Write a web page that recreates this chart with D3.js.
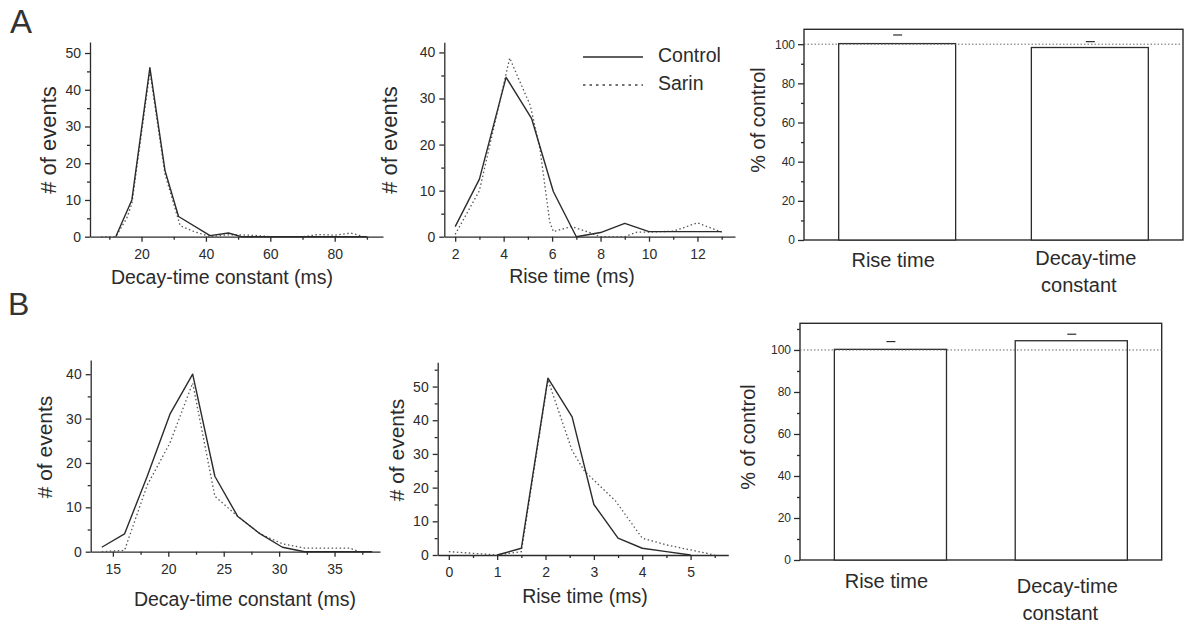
<!DOCTYPE html>
<html>
<head>
<meta charset="utf-8">
<script src="https://cdn.jsdelivr.net/npm/d3@7"></script>
<style>
  body { margin: 0; background: #fff; }
  svg { display: block; font-family: "Liberation Sans", Arial, sans-serif; }
  .axis path, .axis line { stroke: #2b2b2b; stroke-width: 1.3; }
  .axis text { fill: #2b2b2b; }
</style>
</head>
<body>
<script>
// ---- data ----
// A: decay-time constant histogram (ms, # of events)
const decayControlA = [[12, 0], [17, 10], [22.6, 46], [27.3, 18], [31.5, 5.5], [41.3, 0.3], [47, 1], [51, 0], [60, 0], [70, 0], [80, 0], [90, 0]];
const decaySarinA = [[7.5, 0], [12, 0], [15.4, 5], [17, 9], [22.6, 45], [27.3, 17], [32, 3], [36, 1.5], [41.3, 0], [46.5, 0.5], [51, 0.5], [56, 0.3], [60, 0], [70, 0], [75, 0.6], [80, 0.4], [85, 1], [89, 0]];
// A: rise time histogram
const riseControlA = [[2, 2.2], [3, 12.5], [4.1, 34.6], [5.15, 25.7], [6.05, 9.8], [7, 0], [8, 0.9], [9, 2.9], [10, 1.1], [11, 1.1], [12, 1.1], [13, 1.1]];
const riseSarinA = [[2, 0.5], [3, 10], [4.25, 38.8], [4.6, 34.5], [5.1, 28.5], [5.5, 19], [5.9, 3.3], [6.05, 1.1], [6.8, 2.2], [7.5, 1], [8, 0], [9, 0], [9.5, 1], [10, 1], [11, 1.2], [12, 3], [13, 1]];
// B: decay-time constant histogram
const decayControlB = [[14, 1], [16.05, 4], [18.1, 17], [20.15, 31], [22.2, 40], [24.2, 17], [26.25, 8], [28.3, 4], [30.3, 1], [32.3, 0], [34.4, 0], [36.4, 0], [38.4, 0]];
const decaySarinB = [[14, 0], [16.05, 0.3], [18.1, 15], [20.15, 24.5], [22.2, 38], [24.2, 12.5], [26.25, 8], [28.3, 4], [30.3, 1.8], [32.3, 0.8], [34.4, 0.8], [36.4, 0.8], [37.2, 0]];
// B: rise time histogram
const riseControlB = [[1, 0], [1.5, 2], [2.05, 52.5], [2.55, 41], [3, 15], [3.5, 5], [4, 2], [4.5, 1], [5, 0]];
const riseSarinB = [[0, 1], [0.5, 0.5], [1, 0], [1.5, 1], [2.05, 52], [2.55, 31], [2.8, 25], [3.45, 16], [4, 5], [4.5, 3], [5, 1.5], [5.5, 0]];

// % of control bars
const barCategories = ['Rise time', 'Decay-time constant'];
const barValuesA = [100.3, 98.3];
const barErrTopA = [104.7, 101.3];
const barValuesB = [100.3, 104.4];
const barErrTopB = [104, 107.5];

const svg = d3.select('body').append('svg')
  .attr('width', 1186)
  .attr('height', 624);

const ink = '#2b2b2b';

function styleAxis(g, size) {
  g.attr('font-family', null).attr('font-size', size);
}

function histPanel(o) {
  const x = d3.scaleLinear().domain(o.xDomain).range([o.left, o.right]);
  const y = d3.scaleLinear().domain(o.yDomain).range([o.bottom, o.top]);

  // minor ticks
  svg.append('g').attr('class', 'axis')
    .attr('transform', `translate(0,${o.bottom})`)
    .call(d3.axisBottom(x).tickValues(o.xMinor).tickSize(3).tickFormat(''))
    .call(g => g.select('.domain').remove());
  svg.append('g').attr('class', 'axis')
    .attr('transform', `translate(${o.left},0)`)
    .call(d3.axisLeft(y).tickValues(o.yMinor).tickSize(3).tickFormat(''))
    .call(g => g.select('.domain').remove());

  // major axes
  svg.append('g').attr('class', 'axis')
    .attr('transform', `translate(0,${o.bottom})`)
    .call(d3.axisBottom(x).tickValues(o.xMajor).tickFormat(d3.format('~g'))
      .tickSize(5).tickPadding(7).tickSizeOuter(0))
    .call(g => styleAxis(g, 14));
  svg.append('g').attr('class', 'axis')
    .attr('transform', `translate(${o.left},0)`)
    .call(d3.axisLeft(y).tickValues(o.yMajor).tickSize(5).tickPadding(4).tickSizeOuter(0))
    .call(g => styleAxis(g, 14));

  const line = d3.line().x(d => x(d[0])).y(d => y(d[1]));

  svg.append('path').datum(o.sarin)
    .attr('d', line)
    .attr('fill', 'none')
    .attr('stroke', '#555')
    .attr('stroke-width', 1.3)
    .attr('stroke-dasharray', '1.5,2.5');

  svg.append('path').datum(o.control)
    .attr('d', line)
    .attr('fill', 'none')
    .attr('stroke', ink)
    .attr('stroke-width', 1.4)
    .attr('stroke-linejoin', 'round');

  // titles
  svg.append('text')
    .attr('x', o.xTitle[0]).attr('y', o.xTitle[1])
    .attr('text-anchor', 'middle')
    .attr('font-size', 19.5)
    .attr('fill', ink)
    .text(o.xLabel);
  svg.append('text')
    .attr('transform', `translate(${o.yTitle[0]},${o.yTitle[1]}) rotate(-90)`)
    .attr('text-anchor', 'middle')
    .attr('font-size', o.yTitleSize)
    .attr('fill', ink)
    .text('# of events');
}

function barPanel(o) {
  const x = d3.scaleBand().domain(barCategories).range([o.left, o.right])
    .paddingInner(o.padIn).paddingOuter(o.padOut);
  const y = d3.scaleLinear().domain([0, o.yMax]).range([o.bottom, o.top]);

  // frame
  svg.append('rect')
    .attr('x', o.left).attr('y', o.top)
    .attr('width', o.right - o.left).attr('height', o.bottom - o.top)
    .attr('fill', 'none').attr('stroke', ink).attr('stroke-width', 1.4);

  // bars
  svg.selectAll(null).data(o.values).enter().append('rect')
    .attr('x', (d, i) => x(barCategories[i]))
    .attr('y', d => y(d))
    .attr('width', x.bandwidth())
    .attr('height', d => y(0) - y(d))
    .attr('fill', '#fff')
    .attr('stroke', ink)
    .attr('stroke-width', 1.3);

  // reference line at 100 %
  svg.append('line')
    .attr('x1', o.left).attr('x2', o.right)
    .attr('y1', y(100)).attr('y2', y(100))
    .attr('stroke', '#666').attr('stroke-width', 1)
    .attr('stroke-dasharray', '1.5,2');

  // error caps
  svg.selectAll(null).data(o.errTop).enter().append('line')
    .attr('x1', (d, i) => x(barCategories[i]) + x.bandwidth() / 2 - 4)
    .attr('x2', (d, i) => x(barCategories[i]) + x.bandwidth() / 2 + 5)
    .attr('y1', d => y(d)).attr('y2', d => y(d))
    .attr('stroke', ink).attr('stroke-width', 1.2);

  // y axis
  svg.append('g').attr('class', 'axis')
    .attr('transform', `translate(${o.left},0)`)
    .call(d3.axisLeft(y).tickValues(o.yMinor).tickSize(3).tickFormat(''))
    .call(g => g.select('.domain').remove());
  svg.append('g').attr('class', 'axis')
    .attr('transform', `translate(${o.left},0)`)
    .call(d3.axisLeft(y).tickValues([0, 20, 40, 60, 80, 100]).tickSize(6).tickPadding(3).tickSizeOuter(0))
    .call(g => styleAxis(g, 12))
    .call(g => g.select('.domain').remove());

  // category labels
  barCategories.forEach((c, i) => {
    const lines = c === 'Decay-time constant' ? ['Decay-time', 'constant'] : [c];
    const t = svg.append('text')
      .attr('x', x(c) + x.bandwidth() / 2 - 4)
      .attr('y', o.bottom + o.labelDy[i])
      .attr('text-anchor', 'middle')
      .attr('font-size', 20)
      .attr('fill', ink);
    lines.forEach((l, j) => {
      t.append('tspan')
        .attr('x', x(c) + x.bandwidth() / 2 - 4 - j * 7)
        .attr('dy', j === 0 ? 0 : 27)
        .text(l);
    });
  });

  svg.append('text')
    .attr('transform', `translate(${o.yTitle[0]},${o.yTitle[1]}) rotate(-90)`)
    .attr('text-anchor', 'middle')
    .attr('font-size', 20)
    .attr('fill', ink)
    .text('% of control');
}

// panel letters
svg.append('text').attr('x', 10).attr('y', 33).attr('font-size', 33).attr('fill', '#333').text('A');
svg.append('text').attr('x', 8).attr('y', 315).attr('font-size', 32).attr('fill', '#333').text('B');

// A row
histPanel({
  left: 90, right: 383, top: 42, bottom: 236.7,
  xDomain: [4, 95], yDomain: [0, 53],
  xMajor: [20, 40, 60, 80], xMinor: [10, 30, 50, 70, 90],
  yMajor: [0, 10, 20, 30, 40, 50], yMinor: [5, 15, 25, 35, 45],
  control: decayControlA, sarin: decaySarinA,
  xLabel: 'Decay-time constant (ms)', xTitle: [222, 284],
  yTitle: [56, 140], yTitleSize: 22
});
histPanel({
  left: 444.3, right: 735, top: 42.3, bottom: 236.7,
  xDomain: [1.55, 13.55], yDomain: [0, 42.2],
  xMajor: [2, 4, 6, 8, 10, 12], xMinor: [3, 5, 7, 9, 11, 13],
  yMajor: [0, 10, 20, 30, 40], yMinor: [5, 15, 25, 35],
  control: riseControlA, sarin: riseSarinA,
  xLabel: 'Rise time (ms)', xTitle: [572, 283],
  yTitle: [397, 140], yTitleSize: 22
});
barPanel({
  left: 804, right: 1183, top: 29.3, bottom: 240, yMax: 107.6,
  padIn: 0.393, padOut: 0.18,
  values: barValuesA, errTop: barErrTopA,
  yMinor: [10, 30, 50, 70, 90],
  labelDy: [27, 25], yTitle: [765, 120]
});

// legend
svg.append('line').attr('x1', 583).attr('x2', 643).attr('y1', 57).attr('y2', 57)
  .attr('stroke', ink).attr('stroke-width', 1.4);
svg.append('line').attr('x1', 583).attr('x2', 643).attr('y1', 85).attr('y2', 85)
  .attr('stroke', '#444').attr('stroke-width', 1.5).attr('stroke-dasharray', '2.5,4');
svg.append('text').attr('x', 658).attr('y', 62).attr('font-size', 19.5).attr('fill', ink).text('Control');
svg.append('text').attr('x', 658).attr('y', 90).attr('font-size', 19.5).attr('fill', ink).text('Sarin');

// B row
histPanel({
  left: 90.7, right: 380, top: 360, bottom: 551.7,
  xDomain: [13, 39.1], yDomain: [0, 43.2],
  xMajor: [15, 20, 25, 30, 35], xMinor: [17.5, 22.5, 27.5, 32.5, 37.5],
  yMajor: [0, 10, 20, 30, 40], yMinor: [5, 15, 25, 35],
  control: decayControlB, sarin: decaySarinB,
  xLabel: 'Decay-time constant (ms)', xTitle: [245, 606],
  yTitle: [51.5, 447], yTitleSize: 21
});
histPanel({
  left: 437.7, right: 728.3, top: 362.3, bottom: 555,
  xDomain: [-0.23, 5.78], yDomain: [0, 57.2],
  xMajor: [0, 1, 2, 3, 4, 5], xMinor: [0.5, 1.5, 2.5, 3.5, 4.5, 5.5],
  yMajor: [0, 10, 20, 30, 40, 50], yMinor: [5, 15, 25, 35, 45, 55],
  control: riseControlB, sarin: riseSarinB,
  xLabel: 'Rise time (ms)', xTitle: [585, 603],
  yTitle: [404, 450], yTitleSize: 21
});
barPanel({
  left: 800, right: 1161.7, top: 323.3, bottom: 560, yMax: 112.7,
  padIn: 0.38, padOut: 0.19,
  values: barValuesB, errTop: barErrTopB,
  yMinor: [10, 30, 50, 70, 90, 110],
  labelDy: [28, 33], yTitle: [755, 437]
});
</script>
</body>
</html>
